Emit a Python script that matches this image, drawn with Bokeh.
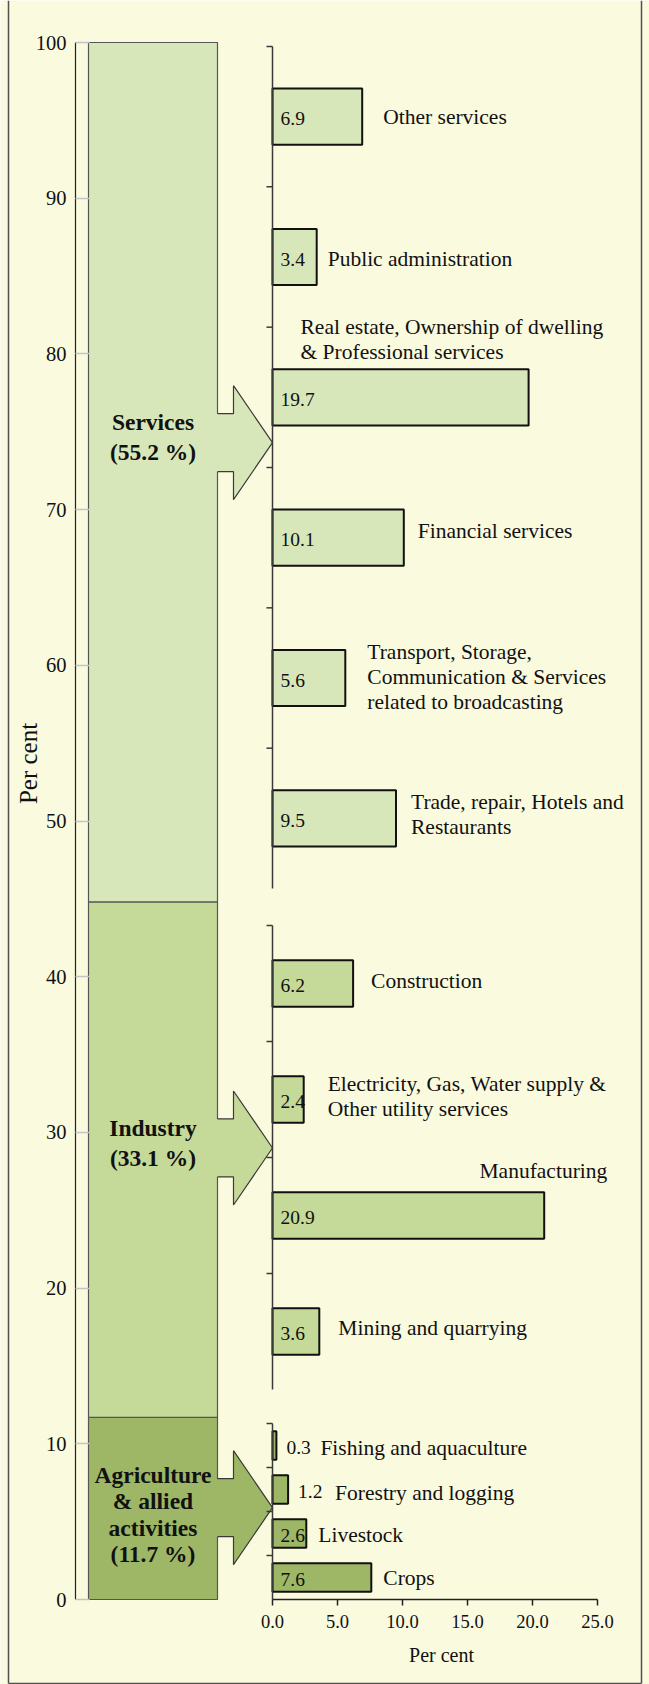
import numpy as np
from bokeh.plotting import figure
from bokeh.models import Range1d, FixedTicker, NumeralTickFormatter, LinearAxis
from bokeh.core.properties import value
from bokeh.embed import file_html
from bokeh.resources import INLINE

# ---------------- data ----------------
sector_names = ["Agriculture\n& allied\nactivities", "Industry", "Services"]
sector_shares = [11.7, 33.1, 55.2]

services_labels = [
    "Other services",
    "Public administration",
    "Real estate, Ownership of dwelling\n& Professional services",
    "Financial services",
    "Transport, Storage,\nCommunication & Services\nrelated to broadcasting",
    "Trade, repair, Hotels and\nRestaurants",
]
services_values = [6.9, 3.4, 19.7, 10.1, 5.6, 9.5]

industry_labels = [
    "Construction",
    "Electricity, Gas, Water supply &\nOther utility services",
    "Manufacturing",
    "Mining and quarrying",
]
industry_values = [6.2, 2.4, 20.9, 3.6]

agri_labels = ["Fishing and aquaculture", "Forestry and logging", "Livestock", "Crops"]
agri_values = [0.3, 1.2, 2.6, 7.6]

y_ticks = list(range(0, 101, 10))
x_ticks = [0, 5, 10, 15, 20, 25]
axis_title = "Per cent"

# ---------------- layout / style (canvas pixels) ----------------
FONT = "Liberation Serif"
BG = "#FAFADF"
COLORS = ["#9DB766", "#C5D998", "#D8E7BA"]  # agriculture, industry, services
EDGE = "#3a3a3a"
INK = "#111111"

W, H = 649, 1684
AXIS_X = 75                 # canvas x of the 0-100 axis
X0, XS = 272, 13.0          # canvas x of value 0 on the detail scale, px per unit
Y0, YS = 1599, 15.57        # canvas y of 0 %, px per unit


def ux(px):
    return (px - X0) / XS


def uy(py):
    return (Y0 - py) / YS


p = figure(width=W, height=H,
           x_range=Range1d(ux(0), ux(W)), y_range=Range1d(uy(H), uy(0)),
           x_axis_location=None, y_axis_location=None,
           output_backend="svg", toolbar_location=None, min_border=0)
p.background_fill_color = BG
p.border_fill_color = BG
p.outline_line_color = None
p.grid.visible = False

# outer frame lines
p.multi_line(xs=[[ux(8), ux(8)], [ux(641), ux(641)], [ux(8), ux(641)]],
             ys=[[uy(0), uy(1683)], [uy(0), uy(1683)], [uy(1683), uy(1683)]],
             line_color="#505050", line_width=1.5)

# ---------------- axes ----------------
yax = LinearAxis(fixed_location=ux(AXIS_X), bounds=(0, 100))
yax.ticker = FixedTicker(ticks=y_ticks)
yax.major_tick_in = 14
yax.major_tick_out = 0
yax.minor_tick_line_color = None
yax.major_tick_line_color = "#c4c4c4"
yax.major_tick_line_width = 1.5
yax.axis_line_color = "#222222"
yax.axis_line_width = 1.2
yax.major_label_standoff = 9
yax.major_label_text_font = FONT
yax.major_label_text_font_size = "20.5px"
yax.major_label_text_color = INK
p.add_layout(yax, "left")

xax = LinearAxis(fixed_location=0, bounds=(min(x_ticks), max(x_ticks)))
xax.ticker = FixedTicker(ticks=x_ticks)
xax.formatter = NumeralTickFormatter(format="0.0")
xax.major_tick_in = 0
xax.major_tick_out = 6
xax.minor_tick_line_color = None
xax.major_tick_line_color = "#222222"
xax.major_tick_line_width = 1.5
xax.axis_line_color = "#222222"
xax.axis_line_width = 1.5
xax.major_label_standoff = 9
xax.major_label_text_font = FONT
xax.major_label_text_font_size = "18.5px"
xax.major_label_text_color = INK
p.add_layout(xax, "below")

# axis titles
p.text(x=[ux(441)], y=[uy(1654)], text=[axis_title], text_font=value(FONT),
       text_font_size="20px", text_color=INK, text_align="center", text_baseline="middle")
p.text(x=[ux(28)], y=[uy(763)], text=[axis_title], angle=np.pi / 2, text_font=value(FONT),
       text_font_size="25px", text_color=INK, text_align="center", text_baseline="middle")

# ---------------- stacked sector bar ----------------
STACK_L, STACK_R = 88, 217
tops = np.cumsum(sector_shares)
bottoms = tops - np.array(sector_shares)
p.vbar(x=ux((STACK_L + STACK_R) / 2), width=(STACK_R - STACK_L) / XS,
       bottom=bottoms, top=tops, fill_color=COLORS, line_color="#555555", line_width=1.2)

# ---------------- block arrows ----------------
arrow_tips = [5.9, 29.0, 74.3]      # y (per cent scale) of each arrow point
HEAD_H, SHAFT_H, SHOULDER = 57, 29, 233
fx, fy, lx, ly = [], [], [], []
for tip in arrow_tips:
    hh, sh = HEAD_H / YS, SHAFT_H / YS
    xs = [ux(STACK_R), ux(SHOULDER), ux(SHOULDER), 0.0, ux(SHOULDER), ux(SHOULDER), ux(STACK_R)]
    ys = [tip + sh, tip + sh, tip + hh, tip, tip - hh, tip - sh, tip - sh]
    fx.append([ux(STACK_R - 2)] + xs[1:-1] + [ux(STACK_R - 2)])
    fy.append(ys)
    lx.append(xs)
    ly.append(ys)
p.patches(fx, fy, fill_color=COLORS, line_color=None)
p.multi_line(lx, ly, line_color=EDGE, line_width=1.2)

# ---------------- detail panels ----------------
panels = [
    # labels, values, (top, bottom) on the per-cent scale, bar fraction, colour, label placement
    (services_labels, services_values, (uy(46), uy(888)), 0.4, COLORS[2],
     [("end", 21, 0), ("end", 11, 2), ("axis", 28, -58), ("end", 14, -7), ("end", 22, -1), ("end", 15, -4)]),
    (industry_labels, industry_values, (uy(925), uy(1389)), 0.4, COLORS[1],
     [("end", 18, -3), ("end", 24, -3), ("axis", 207, -45), ("end", 19, -4)]),
    (agri_labels, agri_values, (uy(1423), 0.0), 0.65, COLORS[0],
     [("end", 44, 2), ("end", 47, 3), ("end", 12, 1), ("end", 12, 0)]),
]

for labels, vals, (top, bot), frac, color, place in panels:
    n = len(vals)
    band = (top - bot) / n
    centers = top - band * (np.arange(n) + 0.5)
    p.hbar(y=centers, left=0, right=vals, height=band * frac,
           fill_color=color, line_color=INK, line_width=2)
    bounds = top - band * np.arange(n)
    p.segment(x0=[0.0], y0=[top], x1=[0.0], y1=[bot], line_color=EDGE, line_width=1.5)
    p.segment(x0=[ux(X0 - 6)] * n, y0=bounds, x1=[0.0] * n, y1=bounds,
              line_color=EDGE, line_width=1.5)
    vx = [v + 10 / XS if v < 2 else 8 / XS for v in vals]
    p.text(x=vx, y=centers - 2 / YS, text=[f"{v:.1f}" for v in vals],
           text_font=value(FONT), text_font_size="19.5px", text_color=INK,
           text_align="left", text_baseline="middle")
    tx = [(v if a == "end" else 0.0) + dx / XS for v, (a, dx, dy) in zip(vals, place)]
    ty = [c - dy / YS for c, (a, dx, dy) in zip(centers, place)]
    p.text(x=tx, y=ty, text=labels, text_font=value(FONT), text_font_size="21.5px",
           text_color=INK, text_align="left", text_baseline="middle",
           text_line_height=1.06)

# ---------------- sector titles ----------------
title_offsets = [-7, 5, 6]    # px above the arrow point
title_spacing = [1.02, 1.15, 1.15]
for name, share, tip, off, lh in zip(sector_names, sector_shares, arrow_tips,
                                     title_offsets, title_spacing):
    p.text(x=[ux((STACK_L + STACK_R) / 2)], y=[tip + off / YS],
           text=[f"{name}\n({share:.1f} %)"],
           text_font=value(FONT), text_font_size="23.5px", text_font_style="bold",
           text_color=INK, text_align="center", text_baseline="middle",
           text_line_height=lh)

open("out.html", "w").write(file_html(p, INLINE))
